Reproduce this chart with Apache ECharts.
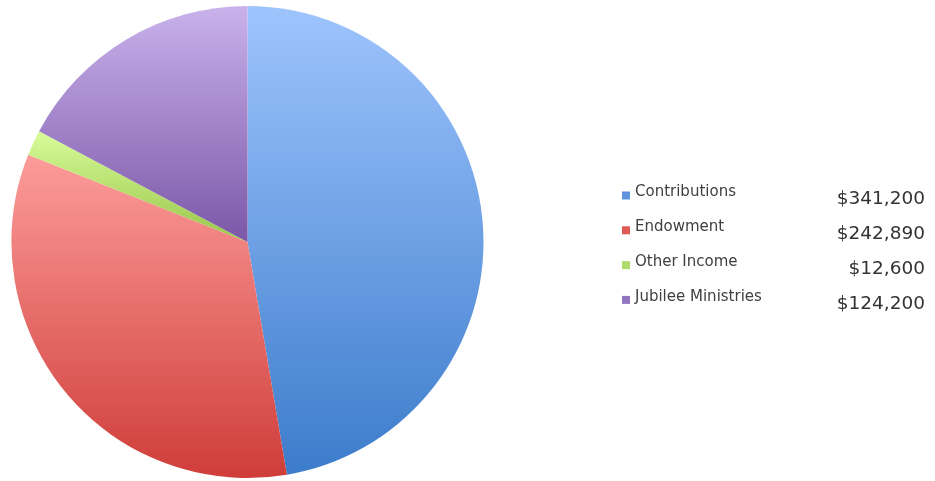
<!DOCTYPE html>
<html>
<head>
<meta charset="utf-8">
<script src="https://cdn.jsdelivr.net/npm/echarts@6/dist/echarts.min.js"></script>
<style>
html,body{margin:0;padding:0;background:#fff;}
#c{width:935px;height:481px;}
</style>
</head>
<body>
<div id="c"></div>
<script>
const categories = ['Contributions', 'Endowment', 'Other Income', 'Jubilee Ministries'];
const values = [341200, 242890, 12600, 124200];
const topColors = ['#9ec4fd', '#fc9c9a', '#d8fc9a', '#c9b2ec'];
const bottomColors = ['#3c7ccb', '#cf3d39', '#98c548', '#7b57a7'];
const legendColors = ['#5f93dc', '#de5a56', '#aedb6c', '#9275c2'];

const valueLabels = values.map(v => '$' + v.toLocaleString('en-US'));

const chart = echarts.init(document.getElementById('c'), null, {renderer: 'canvas'});
chart.setOption({
  animation: false,
  backgroundColor: '#ffffff',
  legend: {
    orient: 'vertical',
    left: 617,
    top: 180,
    icon: 'rect',
    itemWidth: 8,
    itemHeight: 8,
    itemGap: 10.8,
    itemTextGap: 6,
    selectedMode: false,
    data: categories.map((name, i) => ({name: name, itemStyle: {color: legendColors[i]}})),
    formatter: function (name) {
      const i = categories.indexOf(name);
      return '{n|' + name + '}{v|' + valueLabels[i] + '}';
    },
    textStyle: {
      rich: {
        n: {fontFamily: 'DejaVu Sans', fontSize: 15, color: '#404040', width: 196, height: 22, padding: [0, 0, 6, 0]},
        v: {fontFamily: 'DejaVu Sans', fontSize: 18.5, color: '#333333', width: 94, align: 'right', height: 22, padding: [8, 0, 0, 0]}
      }
    }
  },
  series: [{
    type: 'pie',
    center: [247.5, 242],
    radius: 236,
    startAngle: 90,
    clockwise: true,
    label: {show: false},
    labelLine: {show: false},
    emphasis: {disabled: true},
    itemStyle: {borderWidth: 0},
    data: categories.map((name, i) => ({
      name: name,
      value: values[i],
      itemStyle: {
        color: {
          type: 'linear', x: 0, y: 0, x2: 0, y2: 1,
          colorStops: [{offset: 0, color: topColors[i]}, {offset: 1, color: bottomColors[i]}]
        }
      }
    }))
  }]
});
</script>
</body>
</html>
